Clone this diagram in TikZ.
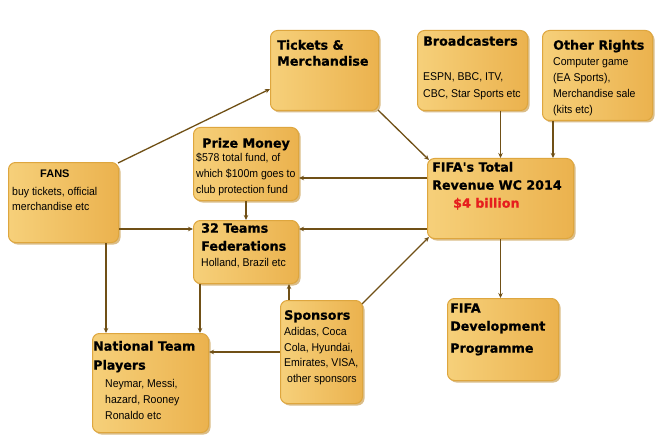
\documentclass[tikz,border=0pt]{standalone}
\usepackage{fontspec}
\setmainfont{Liberation Sans}
\newfontfamily\bdf{Liberation Sans}[FakeStretch=0.93]
\newfontfamily\hf{DejaVu Sans}[BoldFeatures={FakeBold=0.8}]
\usetikzlibrary{arrows.meta,shadows}
\definecolor{cardL}{RGB}{246,208,122}
\definecolor{cardR}{RGB}{235,178,78}
\definecolor{cardEdge}{RGB}{222,166,62}
\definecolor{shadowc}{RGB}{196,146,58}
\definecolor{connc}{RGB}{112,80,22}
\definecolor{redtxt}{RGB}{230,30,30}
\begin{document}
\begin{tikzpicture}[x=1pt,y=-1pt,
  card/.style={rounded corners=7pt, draw=cardEdge, line width=1pt,
    left color=cardL, right color=cardR, anchor=north west, inner sep=0pt,
    drop shadow={shadow xshift=2pt, shadow yshift=-2pt, fill=shadowc, opacity=0.6}},
  hd/.style={anchor=mid west, inner sep=0pt, font=\hf\bfseries\fontsize{12.7}{15}\selectfont},
  hds/.style={anchor=mid west, inner sep=0pt, font=\bfseries\fontsize{11}{13}\selectfont},
  bd/.style={anchor=mid west, inner sep=0pt, font=\bdf\fontsize{11.3}{13}\selectfont},
  conn/.style={draw=connc, line width=1.3pt, -{Stealth[length=5pt,width=4.5pt]}}]
\useasboundingbox[fill=white] (0,0) rectangle (665,444);

% boxes
\node[card, minimum width=110, minimum height=80] (fans) at (8,162) {};
\node[card, minimum width=108, minimum height=80] (tickets) at (270,30) {};
\node[card, minimum width=110, minimum height=80] (bcast) at (417,30) {};
\node[card, minimum width=110, minimum height=90] (other) at (542,30) {};
\node[card, minimum width=105, minimum height=73] (prize) at (193,127) {};
\node[card, minimum width=105, minimum height=63] (teams) at (193,220) {};
\node[card, minimum width=146, minimum height=80] (fifa) at (427,158) {};
\node[card, minimum width=111, minimum height=82] (dev) at (447,298) {};
\node[card, minimum width=116, minimum height=99] (natl) at (92,333) {};
\node[card, minimum width=82, minimum height=103] (spons) at (280,300) {};

% texts
\node[hds] (t1) at (40,175) {FANS};
\node[bd] (t2) at (12,193) {buy tickets, official};
\node[bd] (t3) at (12,208) {merchandise etc};

\node[hd] (t4) at (277,47) {Tickets \&};
\node[hd] (t5) at (277,63) {Merchandise};

\node[hd] (t6) at (423,43) {Broadcasters};
\node[bd] (t7) at (423,78) {ESPN, BBC, ITV,};
\node[bd] (t8) at (423,95) {CBC, Star Sports etc};

\node[hd] (t9) at (553,47) {Other Rights};
\node[bd] (t10) at (553,63) {Computer game};
\node[bd] (t11) at (553,79) {(EA Sports),};
\node[bd] (t12) at (553,95) {Merchandise sale};
\node[bd] (t13) at (553,111) {(kits etc)};

\node[hd] (t14) at (202,145) {Prize Money};
\node[bd] (t15) at (196,159) {\$578 total fund, of};
\node[bd] (t16) at (196,175) {which \$100m goes to};
\node[bd] (t17) at (196,191) {club protection fund};

\node[hd] (t18) at (201,230) {32 Teams};
\node[hd] (t19) at (201,248) {Federations};
\node[bd] (t20) at (201,264) {Holland, Brazil etc};

\node[hd] (t21) at (432,169) {FIFA's Total};
\node[hd] (t22) at (432,187) {Revenue WC 2014};
\node[hd, text=redtxt] (t23) at (453,205) {\$4 billion};

\node[hd] (t24) at (450,310) {FIFA};
\node[hd] (t25) at (450,328) {Development};
\node[hd] (t26) at (450,350) {Programme};

\node[hd] (t27) at (93,348) {National Team};
\node[hd] (t28) at (93,367) {Players};
\node[bd] (t29) at (105,385) {Neymar, Messi,};
\node[bd] (t30) at (105,401) {hazard, Rooney};
\node[bd] (t31) at (105,417) {Ronaldo etc};

\node[hd] (t32) at (284,317) {Sponsors};
\node[bd] (t33) at (284,333) {Adidas, Coca};
\node[bd] (t34) at (284,349) {Cola, Hyundai,};
\node[bd] (t35) at (284,364) {Emirates, VISA,};
\node[bd] (t36) at (287,380) {other sponsors};

% guide coordinates
\coordinate (yPrize) at (0,178);
\coordinate (yTeams) at (0,229);
\coordinate (ySp) at (0,352);
\coordinate (xOther) at (553,0);
\coordinate (xFans) at (106,0);
\coordinate (xTeamsL) at (200,0);
\coordinate (xTeamsR) at (289,0);

% connectors
\draw[conn] ([xshift=-1pt,yshift=-1pt]fans.north east) -- ([yshift=22pt]tickets.south west);
\draw[conn] ([xshift=-1pt,yshift=1pt]tickets.south east) -- ([xshift=2pt,yshift=-2pt]fifa.north west);
\draw[conn] (fifa.north |- bcast.south) -- (fifa.north);
\draw[conn] (xOther |- other.south) -- (xOther |- fifa.north);
\draw[conn] (fifa.west |- yPrize) -- (prize.east |- yPrize);
\draw[conn] (fifa.west |- yTeams) -- (teams.east |- yTeams);
\draw[conn] (fans.east |- yTeams) -- (teams.west |- yTeams);
\draw[conn] (prize.south) -- (teams.north);
\draw[conn] (fifa.south) -- (fifa.south |- dev.north);
\draw[conn] (xFans |- fans.south) -- (xFans |- natl.north);
\draw[conn] (xTeamsL |- teams.south) -- (xTeamsL |- natl.north);
\draw[conn] (xTeamsR |- spons.north) -- (xTeamsR |- teams.south);
\draw[conn] ([xshift=-1pt,yshift=-4pt]spons.north east) -- ([xshift=2pt,yshift=2pt]fifa.south west);
\draw[conn] (spons.west |- ySp) -- (natl.east |- ySp);
\end{tikzpicture}
\end{document}
